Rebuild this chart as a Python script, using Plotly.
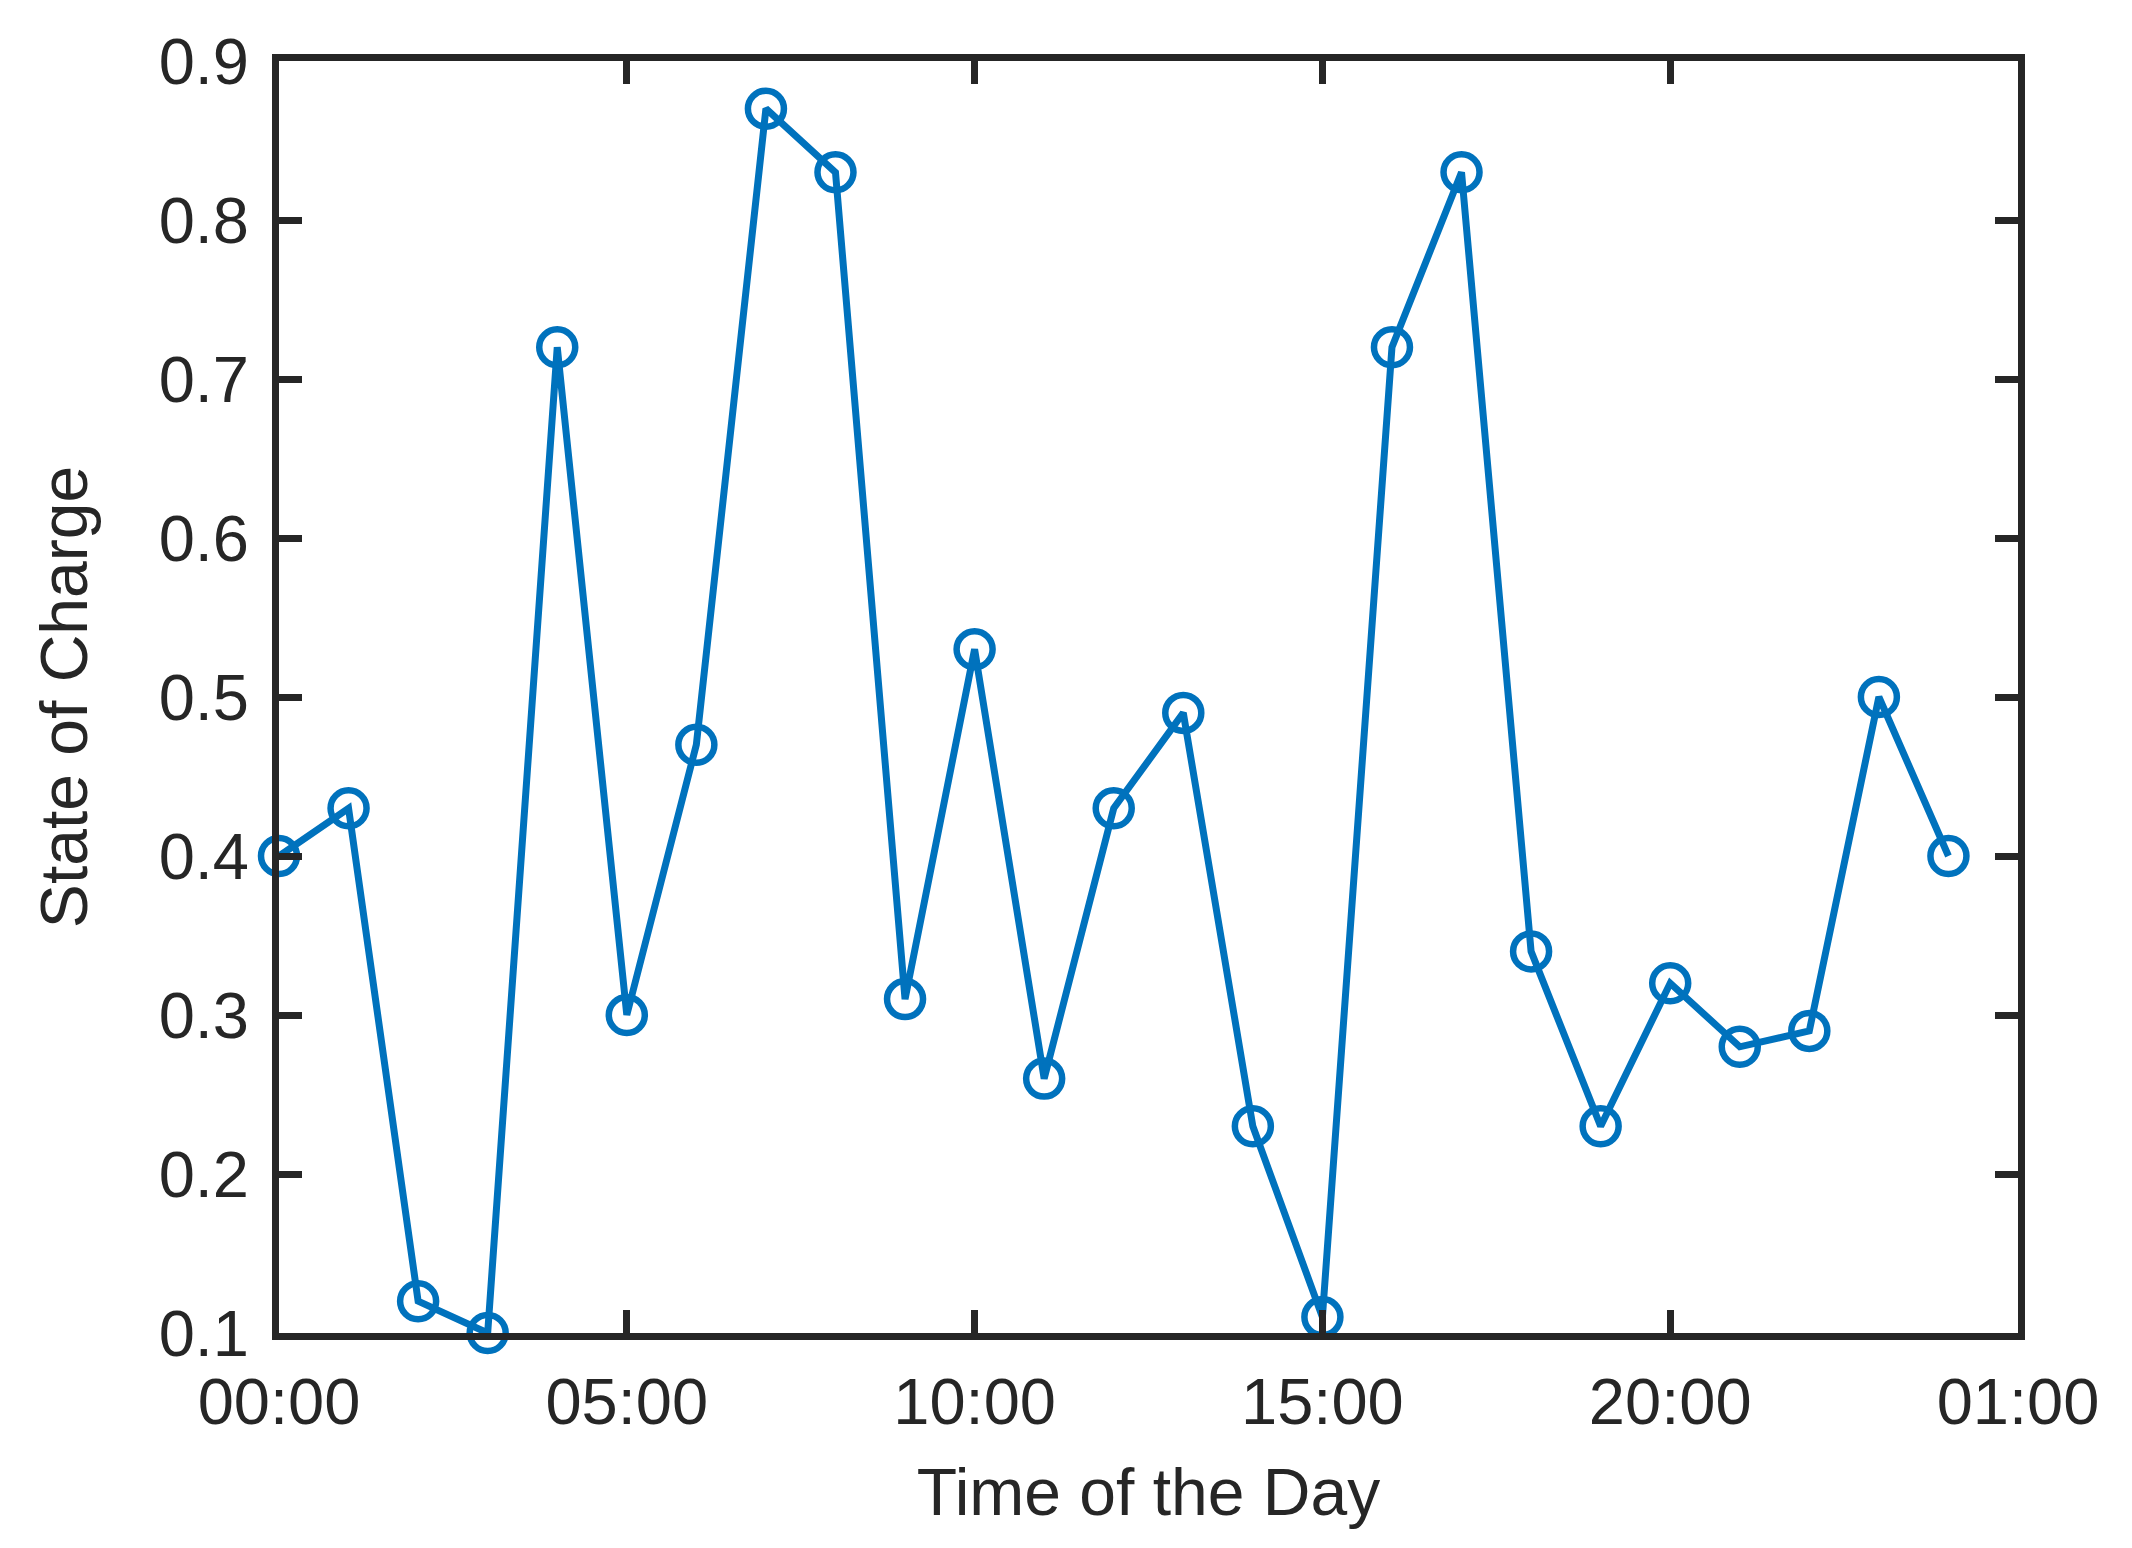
import plotly.graph_objects as go

hours = list(range(25))
soc = [0.40, 0.43, 0.12, 0.10, 0.72, 0.30, 0.47, 0.87, 0.83, 0.31, 0.53, 0.26, 0.43,
       0.49, 0.23, 0.11, 0.72, 0.83, 0.34, 0.23, 0.32, 0.28, 0.29, 0.50, 0.40]
x_tickvals = [0, 5, 10, 15, 20, 25]
x_ticktext = ["00:00", "05:00", "10:00", "15:00", "20:00", "01:00"]
y_tickvals = [0.1, 0.2, 0.3, 0.4, 0.5, 0.6, 0.7, 0.8, 0.9]

BLUE = "#0072BD"
DARK = "#262626"
FONT = "Liberation Sans, Arial, sans-serif"

fig = go.Figure()
fig.add_trace(go.Scatter(
    x=hours, y=soc, mode="lines+markers",
    line=dict(color=BLUE, width=7),
    marker=dict(symbol="circle-open", size=36, color=BLUE, line=dict(color=BLUE, width=6.5)),
    cliponaxis=False, showlegend=False,
))

axis_common = dict(
    showline=True, linecolor=DARK, linewidth=7, mirror="ticks",
    ticks="inside", ticklen=23, tickwidth=7, tickcolor=DARK,
    showgrid=False, zeroline=False,
    tickfont=dict(family=FONT, size=65, color=DARK),
)

fig.update_layout(
    width=2132, height=1548,
    margin=dict(l=271, r=122, t=53, b=223),
    paper_bgcolor="white", plot_bgcolor="white",
    xaxis=dict(range=[0, 25], tickvals=x_tickvals, ticktext=x_ticktext,
               ticklabelstandoff=6,
               title=dict(text="Time of the Day", font=dict(family=FONT, size=66, color=DARK), standoff=34),
               **axis_common),
    yaxis=dict(range=[0.1, 0.9], tickvals=y_tickvals, tickformat=".1f",
               ticklabelstandoff=10,
               title=dict(text="State of Charge", font=dict(family=FONT, size=66, color=DARK), standoff=52),
               **axis_common),
)

fig.write_html("out.html")
